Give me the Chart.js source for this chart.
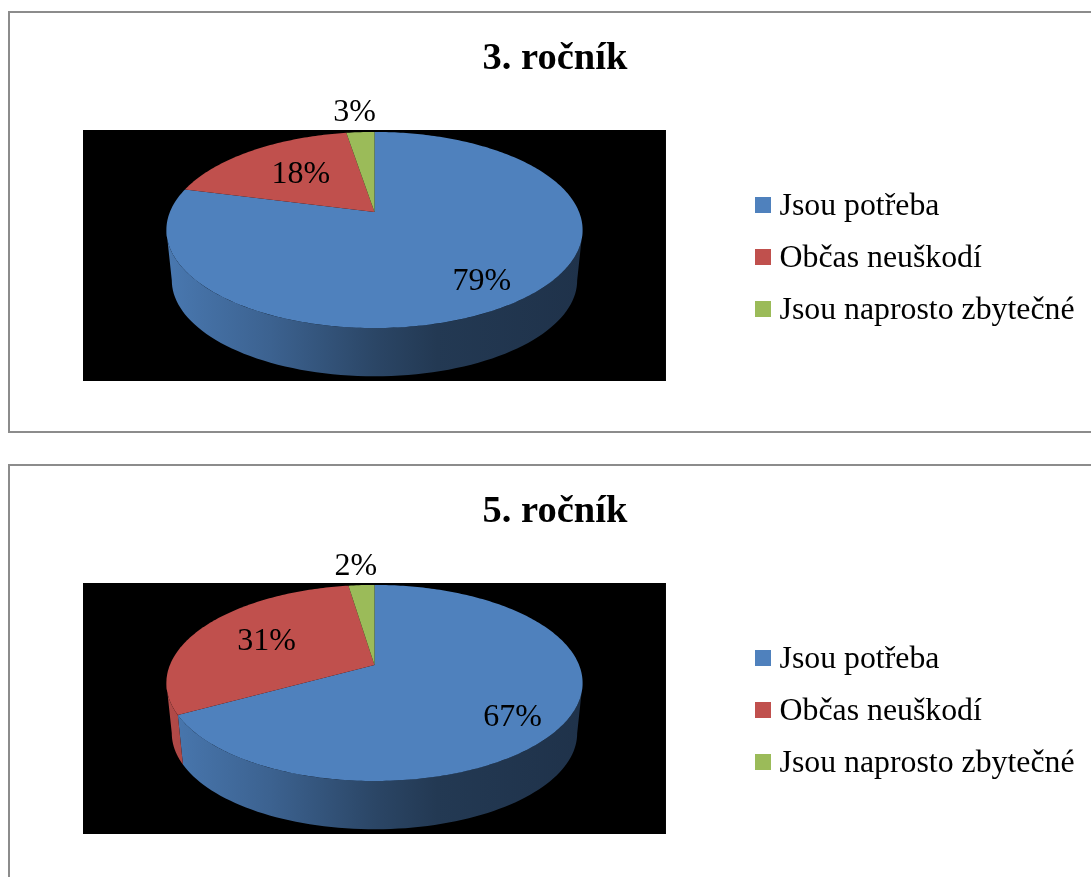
<!DOCTYPE html>
<html lang="cs">
<head>
<meta charset="utf-8">
<title>Ročníky</title>
<style>
  html, body { margin: 0; padding: 0; background: #fff; overflow: hidden; }
  body { position: relative; width: 1091px; height: 877px; }
  .frame { position: absolute; left: 8px; width: 1200px; border: 2px solid #8c8c8c; box-sizing: border-box; }
  #frame3 { top: 11px; height: 422px; }
  #frame5 { top: 464px; height: 600px; }
  canvas { position: absolute; left: 0; }
  #chart3 { top: 0; }
  #chart5 { top: 453px; }
</style>
<script src="https://cdn.jsdelivr.net/npm/chart.js@4/dist/chart.umd.js"></script>
</head>
<body>
<div class="frame" id="frame3"></div>
<div class="frame" id="frame5"></div>
<canvas id="chart3" width="1091" height="432"></canvas>
<canvas id="chart5" width="1091" height="432"></canvas>
<script>
// data
const categories = ['Jsou potřeba', 'Občas neuškodí', 'Jsou naprosto zbytečné'];
const colors = ['#4f81bd', '#c0504d', '#9bbb59'];
const title3 = '3. ročník';
const title5 = '5. ročník';
const values3 = [79, 18.4, 2.6];
const values5 = [67, 30.6, 2.4];

// label placement per slice: fraction of the radius, then a pixel nudge
const labelRadius = [0.78, 0.6, 1.34];
const labelNudge3 = [[-3, 4], [3, 1], [-2, 2]];
const labelNudge5 = [[-10, 12], [-3, 1], [-2, 3]];

const FONT = '"Liberation Serif", "Times New Roman", serif';

// perspective of the tilted pie, all relative to the library's outerRadius
const PERSP = -0.1837;
const SCALE_X = 1.63;
const SCALE_Y = 0.755;
const APEX_Y = -0.347;
const RIM_MID_Y = -0.2;
const DEPTH = 0.4;
const FRONT_FROM = 10.6 * Math.PI / 180;
const FRONT_TO = 169.4 * Math.PI / 180;

function project(el, angle, r) {
  const u = r * Math.cos(angle);
  const v = r * Math.sin(angle);
  const d = 1 + PERSP * v;
  const R = el.outerRadius;
  return {
    x: el.x + SCALE_X * R * u / d,
    y: el.y + APEX_Y * R + SCALE_Y * R * v / d,
  };
}

// same rim point on the bottom of the disc
function lower(el, p) {
  const midY = el.y + RIM_MID_Y * el.outerRadius;
  return {
    x: el.x + (p.x - el.x) * 0.974,
    y: midY + (p.y - midY) * 0.98 + DEPTH * el.outerRadius,
  };
}

function shade(hex, f) {
  const n = parseInt(hex.slice(1), 16);
  const c = [n >> 16, (n >> 8) & 255, n & 255].map(v => Math.round(v * f));
  return `rgb(${c[0]},${c[1]},${c[2]})`;
}

function drawWall(ctx, el, color) {
  const from = Math.max(el.startAngle, FRONT_FROM);
  const to = Math.min(el.endAngle, FRONT_TO);
  if (to <= from) return;
  const top = [];
  for (let i = 0; i <= 80; i++) top.push(project(el, from + (to - from) * i / 80, 1));
  const left = project(el, FRONT_TO, 1).x;
  const right = project(el, FRONT_FROM, 1).x;
  const grad = ctx.createLinearGradient(left, 0, right, 0);
  grad.addColorStop(0, shade(color, 0.93));
  grad.addColorStop(0.25, shade(color, 0.76));
  grad.addColorStop(0.5, shade(color, 0.54));
  grad.addColorStop(0.65, shade(color, 0.44));
  grad.addColorStop(1, shade(color, 0.39));
  ctx.beginPath();
  top.forEach((p, i) => (i ? ctx.lineTo(p.x, p.y) : ctx.moveTo(p.x, p.y)));
  top.slice().reverse().forEach(p => {
    const q = lower(el, p);
    ctx.lineTo(q.x, q.y);
  });
  ctx.closePath();
  ctx.fillStyle = grad;
  ctx.fill();
}

function drawTop(ctx, el, color) {
  const apex = project(el, 0, 0);
  ctx.beginPath();
  ctx.moveTo(apex.x, apex.y);
  const steps = Math.ceil((el.endAngle - el.startAngle) * 60);
  for (let i = 0; i <= steps; i++) {
    const p = project(el, el.startAngle + (el.endAngle - el.startAngle) * i / steps, 1);
    ctx.lineTo(p.x, p.y);
  }
  ctx.closePath();
  ctx.fillStyle = color;
  ctx.fill();
}

// the arcs come from the doughnut controller, this only paints them tilted
const tiltedPie = {
  id: 'tiltedPie',
  afterLayout(chart, args, opts) {
    const legend = chart.legend;
    const shift = chart.chartArea.right + opts.legendGap - legend.left;
    legend.left += shift;
    legend.right += shift;
    legend.top += opts.legendDown;
    legend.bottom += opts.legendDown;
    chart.titleBlock.left += opts.titleRight;
    chart.titleBlock.right += opts.titleRight;
  },
  beforeDatasetDraw(chart, args, opts) {
    const { ctx, chartArea } = chart;
    const meta = args.meta;
    const vals = chart.data.datasets[0].data;
    ctx.save();
    ctx.fillStyle = '#000';
    ctx.fillRect(chartArea.left, chartArea.top, chartArea.width, chartArea.height);
    meta.data.forEach((el, i) => drawWall(ctx, el, colors[i]));
    meta.data.forEach((el, i) => drawTop(ctx, el, colors[i]));
    ctx.fillStyle = '#000';
    ctx.font = `32px ${FONT}`;
    ctx.textAlign = 'center';
    ctx.textBaseline = 'middle';
    meta.data.forEach((el, i) => {
      const p = project(el, (el.startAngle + el.endAngle) / 2, labelRadius[i]);
      ctx.fillText(Math.round(vals[i]) + '%', p.x + opts.nudge[i][0], p.y + opts.nudge[i][1]);
    });
    ctx.restore();
    return false;
  },
};

// taller than the square so it sits a little above the text middle
function swatch(color) {
  const c = document.createElement('canvas');
  c.width = 16;
  c.height = 20;
  const g = c.getContext('2d');
  g.fillStyle = color;
  g.fillRect(0, 0, 16, 16);
  return c;
}

function makeChart(id, title, values, nudge) {
  new Chart(document.getElementById(id), {
    type: 'pie',
    data: {
      labels: categories,
      datasets: [{ data: values, backgroundColor: colors, borderWidth: 0 }],
    },
    plugins: [tiltedPie],
    options: {
      responsive: false,
      animation: false,
      layout: { padding: { left: 83, right: 83, top: 0, bottom: 51 } },
      plugins: {
        tooltip: { enabled: false },
        tiltedPie: { nudge: nudge, legendGap: 76.5, legendDown: 3.5, titleRight: 9.5 },
        title: {
          display: true,
          text: title,
          color: '#000',
          font: { family: FONT, size: 38.5, weight: 'bold' },
          padding: { top: 36, bottom: 47.8 },
        },
        legend: {
          position: 'right',
          fullSize: false,
          labels: {
            color: '#000',
            font: { family: FONT, size: 31.8 },
            padding: 20.2,
            usePointStyle: true,
            pointStyleWidth: 1,
            generateLabels: () => categories.map((text, i) => ({
              text: text,
              fontColor: '#000',
              pointStyle: swatch(colors[i]),
              hidden: false,
              index: i,
            })),
          },
        },
      },
    },
  });
}

makeChart('chart3', title3, values3, labelNudge3);
makeChart('chart5', title5, values5, labelNudge5);
</script>
</body>
</html>
